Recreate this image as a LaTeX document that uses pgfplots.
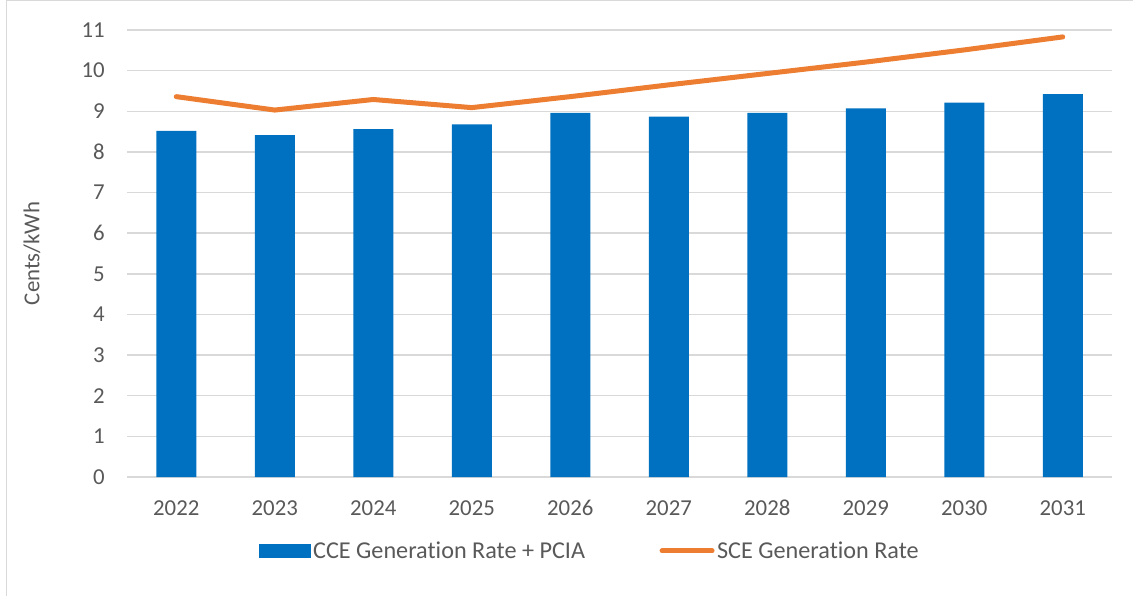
\documentclass[border=0pt]{standalone}
\usepackage{pgfplots}
\pgfplotsset{compat=1.18}
\usepackage{fontspec}
\setmainfont{Carlito}[Ligatures={NoCommon}]
\definecolor{barblue}{HTML}{0070C0}
\definecolor{lineorange}{HTML}{ED7D31}
\definecolor{gridgrey}{HTML}{D9D9D9}
\definecolor{textgrey}{HTML}{595959}
\newcommand{\chartfont}{\fontsize{22.8}{27}\selectfont}
\newcommand{\legendfont}{\fontsize{24.2}{28}\selectfont}
\begin{document}
\begin{tikzpicture}[x=1pt,y=1pt]
\useasboundingbox (0,0) rectangle (1133,-596);
\draw[gridgrey, line width=1.5pt] (6.5,-596) -- (6.5,-0.75) -- (1133,-0.75);
\begin{axis}[
  at={(127pt,-477pt)}, anchor=south west,
  scale only axis, width=985pt, height=447pt,
  xmin=-0.5, xmax=9.5, ymin=0, ymax=11,
  xtick={0,...,9},
  xticklabels={2022,2023,2024,2025,2026,2027,2028,2029,2030,2031},
  ytick={0,...,11},
  axis line style={draw=none},
  major tick length=0pt,
  ymajorgrids,
  grid style={gridgrey, line width=1.4pt},
  /pgf/number format/assume math mode=true,
  tick label style={font=\chartfont, text=textgrey, inner sep=0pt},
  xticklabel style={anchor=base, yshift=-38pt},
  yticklabel style={anchor=east, xshift=-22pt},
  ylabel={Cents/kWh},
  every axis y label/.style={at={(axis description cs:-0.0964,0.5)}, rotate=90, anchor=center, font=\chartfont, text=textgrey},
  legend columns=2,
  legend style={draw=none, fill=none, at={(axis description cs:0.470,-0.1655)}, anchor=center,
    font=\legendfont, text=textgrey,
    /tikz/column 2/.style={column sep=72pt},
    nodes={inner sep=2.5pt}},
  clip=false,
]
\addplot[ybar, bar width=40pt, fill=barblue, draw=none,
  legend image code/.code={\fill[barblue] (0pt,-7pt) rectangle (52pt,7pt);}]
  coordinates {(0,8.52) (1,8.41) (2,8.56) (3,8.68) (4,8.96) (5,8.87) (6,8.96) (7,9.07) (8,9.21) (9,9.42)};
\addlegendentry{CCE Generation Rate + PCIA}
\addplot[lineorange, line width=5pt, line cap=round, line join=round, mark=none,
  legend image code/.code={\draw[lineorange, line width=5pt, line cap=round] (2.5pt,0pt) -- (52.5pt,0pt);}]
  coordinates {(0,9.36) (1,9.03) (2,9.29) (3,9.09) (4,9.36) (5,9.65) (6,9.93) (7,10.21) (8,10.51) (9,10.83)};
\addlegendentry{SCE Generation Rate}
\end{axis}
\end{tikzpicture}
\end{document}
